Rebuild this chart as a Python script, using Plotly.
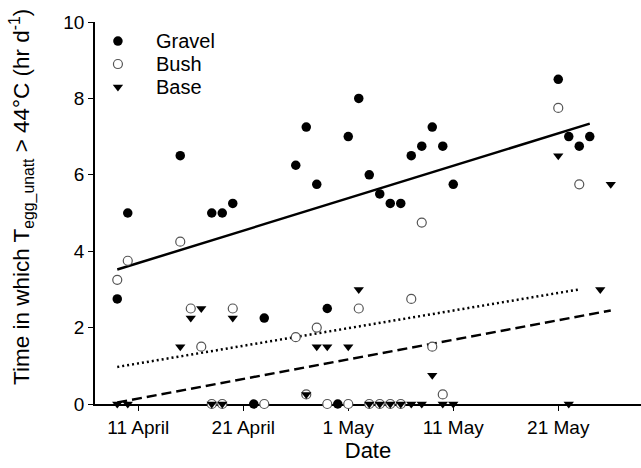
import plotly.graph_objects as go

# Daily hours above 44 °C for unattended eggs at three microsites
gravel_dates = ["2009-04-09", "2009-04-10", "2009-04-15", "2009-04-18", "2009-04-19",
                "2009-04-20", "2009-04-22", "2009-04-23", "2009-04-26", "2009-04-27",
                "2009-04-28", "2009-04-29", "2009-04-30", "2009-05-01", "2009-05-02",
                "2009-05-03", "2009-05-04", "2009-05-05", "2009-05-06", "2009-05-07",
                "2009-05-08", "2009-05-09", "2009-05-10", "2009-05-11", "2009-05-21",
                "2009-05-22", "2009-05-23", "2009-05-24"]
gravel_hours = [2.75, 5.0, 6.5, 5.0, 5.0,
                5.25, 0.0, 2.25, 6.25, 7.25,
                5.75, 2.5, 0.0, 7.0, 8.0,
                6.0, 5.5, 5.25, 5.25, 6.5,
                6.75, 7.25, 6.75, 5.75, 8.5,
                7.0, 6.75, 7.0]

bush_dates = ["2009-04-09", "2009-04-10", "2009-04-15", "2009-04-16", "2009-04-17",
              "2009-04-18", "2009-04-19", "2009-04-20", "2009-04-23", "2009-04-26",
              "2009-04-27", "2009-04-28", "2009-04-29", "2009-05-01", "2009-05-02",
              "2009-05-03", "2009-05-04", "2009-05-05", "2009-05-06", "2009-05-07",
              "2009-05-08", "2009-05-09", "2009-05-10", "2009-05-21", "2009-05-23"]
bush_hours = [3.25, 3.75, 4.25, 2.5, 1.5,
              0.0, 0.0, 2.5, 0.0, 1.75,
              0.25, 2.0, 0.0, 0.0, 2.5,
              0.0, 0.0, 0.0, 0.0, 2.75,
              4.75, 1.5, 0.25, 7.75, 5.75]

base_dates = ["2009-04-09", "2009-04-10", "2009-04-15", "2009-04-16", "2009-04-17",
              "2009-04-18", "2009-04-19", "2009-04-20", "2009-04-27", "2009-04-28",
              "2009-04-29", "2009-05-01", "2009-05-02", "2009-05-03", "2009-05-04",
              "2009-05-05", "2009-05-06", "2009-05-07", "2009-05-08", "2009-05-09",
              "2009-05-10", "2009-05-11", "2009-05-21", "2009-05-22", "2009-05-25",
              "2009-05-26"]
base_hours = [0.0, 0.0, 1.5, 2.25, 2.5,
              0.0, 0.0, 2.25, 0.25, 1.5,
              1.5, 1.5, 3.0, 0.0, 0.0,
              0.0, 0.0, 0.0, 0.0, 0.75,
              0.0, 0.0, 6.5, 0.0, 3.0,
              5.75]

# Linear trend lines (end points over each series' date span)
gravel_fit_dates = ["2009-04-09", "2009-05-24"]
gravel_fit_hours = [3.52, 7.34]
bush_fit_dates = ["2009-04-09", "2009-05-23"]
bush_fit_hours = [0.97, 3.0]
base_fit_dates = ["2009-04-09", "2009-05-26"]
base_fit_hours = [0.04, 2.45]

tick_dates = ["2009-04-11", "2009-04-21", "2009-05-01", "2009-05-11", "2009-05-21"]
tick_labels = ["11 April", "21 April", "1 May", "11 May", "21 May"]

legend_names = ["Gravel", "Bush", "Base"]

FONT = "Liberation Sans, Arial, sans-serif"

fig = go.Figure()

fig.add_trace(go.Scatter(x=gravel_fit_dates, y=gravel_fit_hours, mode="lines",
                         line=dict(color="black", width=2.5), showlegend=False,
                         hoverinfo="skip"))
fig.add_trace(go.Scatter(x=bush_fit_dates, y=bush_fit_hours, mode="lines",
                         line=dict(color="black", width=2.5, dash="2px,3px"),
                         showlegend=False, hoverinfo="skip"))
fig.add_trace(go.Scatter(x=base_fit_dates, y=base_fit_hours, mode="lines",
                         line=dict(color="black", width=2.5, dash="10px,5px"),
                         showlegend=False, hoverinfo="skip"))

fig.add_trace(go.Scatter(x=gravel_dates, y=gravel_hours, mode="markers", name="Gravel",
                         marker=dict(symbol="circle", size=9.5, color="black"),
                         cliponaxis=False, showlegend=False))
fig.add_trace(go.Scatter(x=bush_dates, y=bush_hours, mode="markers", name="Bush",
                         marker=dict(symbol="circle", size=9, color="white",
                                     line=dict(color="#555555", width=1.2)),
                         cliponaxis=False, showlegend=False))
fig.add_trace(go.Scatter(x=base_dates, y=base_hours, mode="markers", name="Base",
                         marker=dict(symbol="triangle-down", size=9, color="black"),
                         cliponaxis=False, showlegend=False))

# Key in the upper-left corner: symbols as pixel-sized shapes, names as text
key_x_sym = 0.042
key_x_text = 0.108
key_rows = [0.950, 0.890, 0.830]

shapes = [
    dict(type="circle", xref="paper", yref="paper", xsizemode="pixel", ysizemode="pixel",
         xanchor=key_x_sym, yanchor=key_rows[0], x0=-4.75, x1=4.75, y0=-4.75, y1=4.75,
         fillcolor="black", line=dict(color="black", width=0)),
    dict(type="circle", xref="paper", yref="paper", xsizemode="pixel", ysizemode="pixel",
         xanchor=key_x_sym, yanchor=key_rows[1], x0=-4.5, x1=4.5, y0=-4.5, y1=4.5,
         fillcolor="white", line=dict(color="#555555", width=1.2)),
    dict(type="path", xref="paper", yref="paper", xsizemode="pixel", ysizemode="pixel",
         xanchor=key_x_sym, yanchor=key_rows[2], path="M-5.2,2.25 L5.2,2.25 L0,-4.5 Z",
         fillcolor="black", line=dict(color="black", width=0)),
]

annotations = [dict(text=name, xref="paper", yref="paper", x=key_x_text, y=row,
                    xanchor="left", yanchor="middle", showarrow=False,
                    font=dict(family=FONT, size=20, color="black"))
               for name, row in zip(legend_names, key_rows)]

annotations.append(dict(
    text="Time in which T<sub>egg_unatt</sub> > 44°C (hr d<sup>-1</sup>)",
    xref="paper", yref="paper", x=0, y=0.542, xshift=-73,
    xanchor="center", yanchor="middle", textangle=-90, showarrow=False,
    font=dict(family=FONT, size=22.5, color="black")))

fig.update_layout(
    width=641, height=468,
    margin=dict(l=95, r=0, t=22, b=64),
    paper_bgcolor="white", plot_bgcolor="white",
    font=dict(family=FONT, color="black", size=19),
    showlegend=False,
    xaxis=dict(type="date",
               range=["2009-04-06 21:07:00", "2009-05-28 21:07:00"],
               tickvals=tick_dates, ticktext=tick_labels,
               ticks="outside", ticklen=5, tickwidth=1.3, tickcolor="black",
               showline=True, linecolor="black", linewidth=1.5,
               showgrid=False, zeroline=False, layer="below traces",
               tickfont=dict(family=FONT, size=19, color="black"),
               title=dict(text="Date", font=dict(family=FONT, size=22, color="black"),
                          standoff=6)),
    yaxis=dict(range=[0, 10], tickvals=[0, 2, 4, 6, 8, 10],
               ticks="outside", ticklen=5, tickwidth=1.3, tickcolor="black",
               showline=True, linecolor="black", linewidth=1.5,
               showgrid=False, zeroline=False, layer="below traces",
               tickfont=dict(family=FONT, size=19, color="black")),
    shapes=shapes,
    annotations=annotations,
)

fig.write_html("out.html")
